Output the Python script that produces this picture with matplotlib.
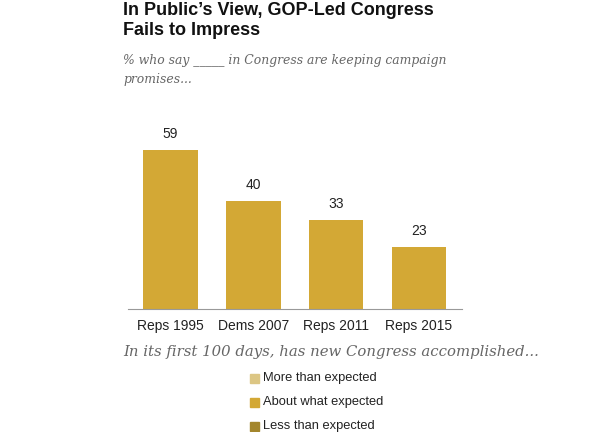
import matplotlib.pyplot as plt
from matplotlib.patches import Rectangle

categories = ["Reps 1995", "Dems 2007", "Reps 2011", "Reps 2015"]
values = [59, 40, 33, 23]

legend_labels = ["More than expected", "About what expected", "Less than expected"]
legend_colors = ["#DCC684", "#D3A835", "#A3862C"]
bar_color = "#D3A835"

plt.rcParams['font.family'] = ['Liberation Sans', 'DejaVu Sans']
serif = ['DejaVu Serif', 'Liberation Serif']

fig = plt.figure(figsize=(6, 4.32), dpi=100)
ax = fig.add_axes([0.2133, 0.2847, 0.557, 0.42])

x = range(len(categories))
bars = ax.bar(x, values, width=0.66, color=bar_color)

for xi, v in zip(x, values):
    ax.text(xi, v + 3.5, str(v), ha='center', va='bottom', fontsize=10, color='#222222')

ax.set_xlim(-0.51, 3.52)
ax.set_ylim(0, 67.5)
ax.set_xticks(list(x))
ax.set_xticklabels(categories, fontsize=10, color='#222222')
ax.tick_params(axis='x', length=0, pad=7)
ax.set_yticks([])
for s in ['top', 'right', 'left']:
    ax.spines[s].set_visible(False)
ax.spines['bottom'].set_color('#999999')
ax.spines['bottom'].set_linewidth(0.8)

# title and subtitle
fig.text(123 / 600, 1 - 2 / 432, "In Public\u2019s View, GOP-Led Congress\nFails to Impress",
         ha='left', va='top', fontsize=13, fontweight='bold', linespacing=1.25, color='#111111')
fig.text(123 / 600, 1 - 54 / 432, "% who say _____ in Congress are keeping campaign\npromises...",
         ha='left', va='top', fontsize=8.9, style='italic', family=serif,
         color='#666666', linespacing=1.6)

# legend
fig.text(123 / 600, 1 - 352 / 432, "In its first 100 days, has new Congress accomplished...",
         ha='left', va='center', fontsize=10.7, style='italic', family=serif,
         color='#666666')
for i, (lab, col) in enumerate(zip(legend_labels, legend_colors)):
    yc = 378 + i * 24
    fig.patches.append(Rectangle((250 / 600, 1 - (yc + 4.5) / 432), 9 / 600, 9 / 432,
                                 transform=fig.transFigure, color=col))
    fig.text(263 / 600, 1 - yc / 432, lab, ha='left', va='center', fontsize=9.3, color='#222222')

fig.savefig('out.png', dpi=100)
